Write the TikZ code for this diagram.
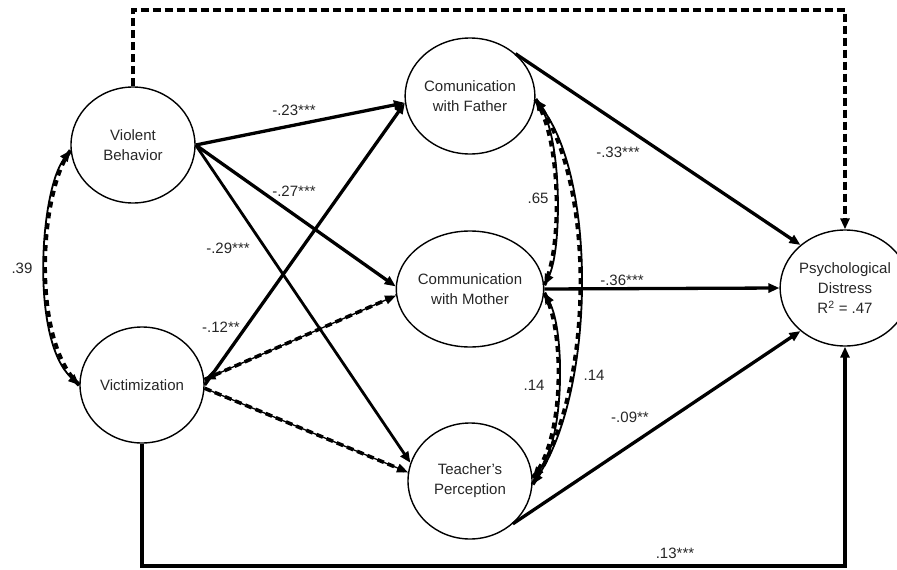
\documentclass[tikz,border=0pt]{standalone}
\usepackage{fontspec}
\setmainfont{Liberation Sans}
\usetikzlibrary{shapes.geometric,arrows.meta}
\begin{document}
\begin{tikzpicture}[x=1pt,y=-1pt,
  >={Triangle[length=11pt,width=9pt]},
  lv/.style={ellipse, draw, line width=1.4pt, minimum width=124pt, minimum height=116pt,
    inner sep=0pt, align=center, font=\fontsize{15}{20}\selectfont, text=black!85},
  lab/.style={font=\fontsize{15}{17}\selectfont, text=black!85, inner sep=1pt},
  sol/.style={line width=3.3pt, ->},
  dsh/.style={line width=1.3pt, ->, postaction={draw,-,line width=3.6pt,dash pattern=on 7pt off 4pt}},
  corr/.style={line width=1.8pt, <->, postaction={draw,-,line width=4pt,dash pattern=on 6pt off 5pt}},
  topdash/.style={line width=3.2pt, dash pattern=on 8pt off 4pt, ->}
]
\useasboundingbox (0,0) rectangle (897,570);

% latent variables
\node[lv] (VB) at (133,145) {Violent\\Behavior};
\node[lv] (Vi) at (142,385) {Victimization};
\node[lv] (Fa) at (470,96) {Comunication\\with Father};
\node[lv] (Mo) at (470,289) {Communication\\with Mother};
\node[lv] (Te) at (470,481) {Teacher's\\Perception};
\node[lv] (PD) at (845,288) {Psychological\\Distress\\R\textsuperscript{2} = .47};

\coordinate (bot) at (0,566);
\coordinate (top) at (0,10);

% paths
\draw[sol] (VB.east) -- (Fa.186);
\draw[sol] (VB.east) -- (Mo.178);
\draw[sol, line width=2.8pt] (VB.east) -- (Te.163);
\draw[sol] (Vi.east) -- (Fa.186);
\draw[dsh, <->] (Vi.5) -- (Mo.185);
\draw[dsh] (Vi.-3) -- (Te.172);
\draw[sol] (Fa.43) -- (PD.136);
\draw[sol] (Mo.east) -- (PD.west);
\draw[sol] (Te.-45) -- (PD.224);
\draw[sol] (Vi.south) -- (Vi.south |- bot) -| (PD.south);
\draw[topdash] (VB.north) -- (VB.north |- top) -| (PD.north);

% correlations
\draw[corr] (VB.185) .. controls (40,190) and (30,340) .. (Vi.west);
\draw[corr] (Fa.-3) .. controls (562,140) and (562,250) .. (Mo.3);
\draw[corr] (Mo.-3) .. controls (565,330) and (565,440) .. (Te.3);
\draw[corr] (Fa.-3) .. controls (597,180) and (595,390) .. (Te.-3);

% labels
\node[lab] (l23) at (294,110) {-.23***};
\node[lab] (l27) at (294,191) {-.27***};
\node[lab] (l29) at (228,248) {-.29***};
\node[lab] (l12) at (221,327) {-.12**};
\node[lab] (l39) at (22,268) {.39};
\node[lab] (l33) at (618,152) {-.33***};
\node[lab] (l36) at (622,280) {-.36***};
\node[lab] (l09) at (630,417) {-.09**};
\node[lab] (l13) at (675,553) {.13***};
\node[lab] (l65) at (538,198) {.65};
\node[lab] (l14a) at (534,385) {.14};
\node[lab] (l14b) at (594,375) {.14};
\end{tikzpicture}
\end{document}
